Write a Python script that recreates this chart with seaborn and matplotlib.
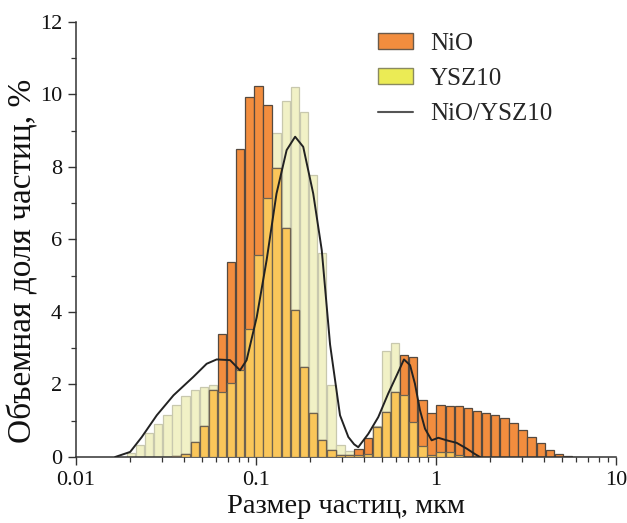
import numpy as np
import matplotlib
matplotlib.use("Agg")
import matplotlib.pyplot as plt
import seaborn as sns
from matplotlib.patches import Patch
from matplotlib.lines import Line2D
from matplotlib.ticker import FixedLocator, LogLocator, MultipleLocator, FuncFormatter

# size classes (log grid of the analyser), um
n_bins = 50
first_center = 0.0202
log_step = 0.0506

# volume fraction per size class, %
niO = [0, 0, 0, 0, 0, 0.03, 0.09, 0.42, 0.85, 1.86,
       3.38, 5.37, 8.50, 9.92, 10.23, 9.70, 7.96, 6.30, 4.05, 2.48,
       1.22, 0.48, 0.19, 0.05, 0.06, 0.23, 0.52, 0.82, 1.24, 1.78,
       2.81, 2.75, 1.56, 1.21, 1.42, 1.41, 1.40, 1.36, 1.27, 1.20,
       1.17, 1.08, 0.94, 0.75, 0.56, 0.38, 0.19, 0.09, 0.03, 0.01]
ysz = [0.12, 0.32, 0.65, 0.91, 1.17, 1.42, 1.68, 1.86, 1.93, 1.98,
       1.78, 2.04, 2.39, 3.54, 5.56, 7.15, 8.94, 9.82, 10.20, 9.51,
       7.78, 5.61, 1.98, 0.34, 0.17, 0.05, 0.08, 0.85, 2.92, 3.15,
       1.71, 0.97, 0.30, 0.05, 0.15, 0.13, 0.05, 0, 0, 0,
       0, 0, 0, 0, 0, 0, 0, 0, 0, 0]

# mixture curve NiO/YSZ10
mix_x = [0.0165, 0.0200, 0.0232, 0.0281, 0.0348, 0.0449, 0.0532, 0.0605, 0.0718,
         0.0815, 0.0887, 0.101, 0.1146, 0.130, 0.148, 0.165, 0.183, 0.208, 0.232,
         0.258, 0.293, 0.326, 0.351, 0.370, 0.421, 0.478, 0.543, 0.605, 0.664,
         0.718, 0.764, 0.815, 0.869, 0.946, 1.03, 1.146, 1.303, 1.483, 1.648, 1.754]
mix_y = [0, 0.14, 0.55, 1.15, 1.70, 2.21, 2.57, 2.69, 2.67,
         2.39, 2.67, 3.86, 5.43, 7.26, 8.46, 8.83, 8.55, 7.26, 5.70,
         3.10, 1.15, 0.55, 0.35, 0.27, 0.64, 1.10, 1.75, 2.25, 2.69,
         2.53, 2.02, 1.29, 0.78, 0.46, 0.53, 0.46, 0.39, 0.23, 0.08, 0.0]

orange = "#F28D3E"
golden = "#FAC65A"
pale = "#F1F1C6"
yellow = "#EBEB55"

sns.set_style("ticks")
plt.rcParams["font.family"] = ["Liberation Serif", "DejaVu Serif"]

niO = np.array(niO)
ysz = np.array(ysz)
centers = np.log10(first_center) + log_step * np.arange(n_bins)
left = 10 ** (centers - 0.46 * log_step)
right = 10 ** (centers + 0.46 * log_step)
width = right - left
both = np.minimum(niO, ysz)

fig = plt.figure(figsize=(6.27, 5.23), dpi=100)
ax = fig.add_axes([0.1212, 0.1262, 0.8612, 0.8323])
ax.set_xscale("log")

m = ysz > 0
ax.bar(left[m], ysz[m], width=width[m], align="edge", color=pale,
       edgecolor="#C8C8AE", linewidth=0.9, zorder=1)
m = niO > 0
ax.bar(left[m], niO[m], width=width[m], align="edge", color=orange,
       edgecolor="#55493F", linewidth=0.9, zorder=2)
m = both > 0
ax.bar(left[m], both[m], width=width[m], align="edge", color=golden,
       edgecolor="#6E6250", linewidth=0.9, zorder=3)

sns.lineplot(x=mix_x, y=mix_y, ax=ax, color="#222222", linewidth=1.4,
             sort=False, zorder=4)

ax.set_xlim(0.01, 10)
ax.set_ylim(0, 12)
ax.xaxis.set_major_locator(FixedLocator([0.01, 0.1, 1, 10]))
ax.xaxis.set_minor_locator(LogLocator(base=10, subs=np.arange(2, 10), numticks=20))
ax.xaxis.set_major_formatter(FuncFormatter(lambda v, p: f"{v:g}"))
ax.yaxis.set_major_locator(MultipleLocator(2))
ax.yaxis.set_minor_locator(MultipleLocator(1))

for s in ["top", "right"]:
    ax.spines[s].set_visible(False)
for s in ["left", "bottom"]:
    ax.spines[s].set_color("#333333")
    ax.spines[s].set_linewidth(1.1)
ax.tick_params(which="major", direction="out", length=6, width=1.0,
               color="#333333", labelsize=16, labelcolor="#111111", pad=4)
ax.tick_params(which="minor", direction="out", length=3.5, width=0.9,
               color="#333333")

ax.set_xlabel("Размер частиц, мкм", fontsize=20.5, color="#111111", labelpad=3)
ax.set_ylabel("Объемная доля частиц, %", fontsize=24, color="#111111")
ax.yaxis.set_label_coords(-0.069, 0.45)

handles = [Patch(facecolor=orange, edgecolor="#6A5A4A", linewidth=1.0, label="NiO"),
           Patch(facecolor=yellow, edgecolor="#8A8A60", linewidth=1.0, label="YSZ10"),
           Line2D([], [], color="#555555", linewidth=1.5, label="NiO/YSZ10")]
fig.legend(handles=handles, loc="upper left", bbox_to_anchor=(0.603, 0.937),
           frameon=False, fontsize=18, handlelength=1.4, handleheight=0.56,
           handletextpad=0.68, labelspacing=0.52, borderpad=0, borderaxespad=0)

fig.savefig("out.png", dpi=100)
